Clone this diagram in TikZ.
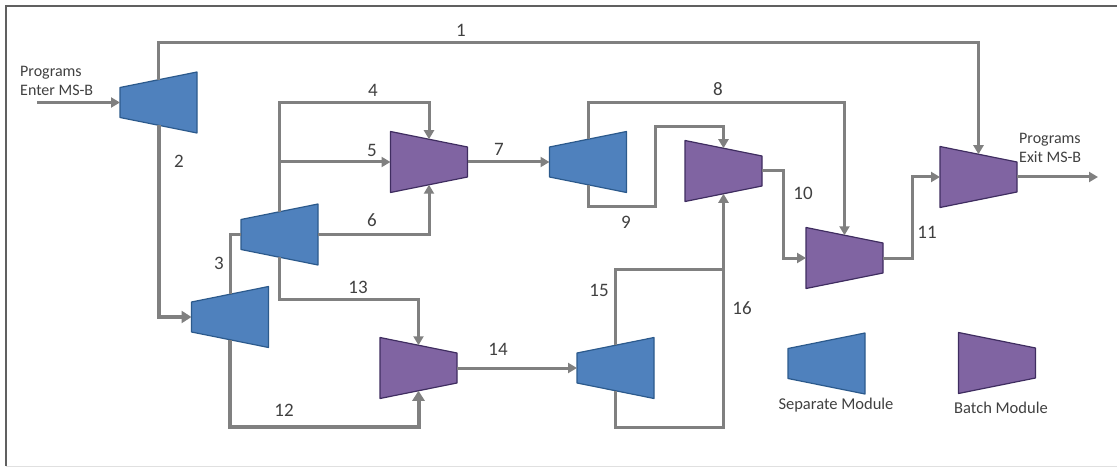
\documentclass[tikz,border=0pt]{standalone}
\usepackage{fontspec}
\setmainfont{Carlito}
\usetikzlibrary{arrows.meta,calc}
\definecolor{sepfill}{HTML}{4F81BD}
\definecolor{sepline}{HTML}{2C5A8C}
\definecolor{batfill}{HTML}{8064A2}
\definecolor{batline}{HTML}{3F2D60}
\definecolor{conn}{HTML}{808080}
\definecolor{txt}{HTML}{404040}
\definecolor{frame}{HTML}{606060}
\tikzset{
  sepmod/.pic={
    \draw[sepline,fill=sepfill,line width=1.2pt,line join=round]
      (-38.5,-15) -- (38.5,-30.5) -- (38.5,30.5) -- (-38.5,15) -- cycle;
    \coordinate (-w) at (-38.5,0);
    \coordinate (-e) at (38.5,0);
    \coordinate (-n) at (0,-22.75);
    \coordinate (-s) at (0,22.75);
  },
  batmod/.pic={
    \draw[batline,fill=batfill,line width=1.2pt,line join=round]
      (-38.5,-30.5) -- (38.5,-15) -- (38.5,15) -- (-38.5,30.5) -- cycle;
    \coordinate (-w) at (-38.5,0);
    \coordinate (-e) at (38.5,0);
    \coordinate (-n) at (0,-22.75);
    \coordinate (-s) at (0,22.75);
  },
  flow/.style={draw=conn,line width=3pt,-{Triangle[length=9pt,width=10pt]}},
  flowthick/.style={draw=conn,line width=4pt,-{Triangle[length=10pt,width=12pt]}},
  plain/.style={draw=conn,line width=3pt},
  num/.style={text=txt,font=\fontsize{19}{19}\selectfont,inner sep=0pt},
  lbl/.style={text=txt,font=\fontsize{16}{19}\selectfont,inner sep=0pt,align=left},
  leg/.style={text=txt,font=\fontsize{16.5}{19}\selectfont,inner sep=0pt},
}
\begin{document}
\begin{tikzpicture}[x=1pt,y=-1pt]
\useasboundingbox (0,0) rectangle (1117,468);
% frame
\draw[frame,line width=2pt] (6,466) -- (6,6) -- (1117,6);
\draw[black!12,line width=1pt] (6,466) -- (1117,466);

% modules
\pic (s1) at (158.5,102.5) {sepmod};
\pic (s2) at (279.5,234.5) {sepmod};
\pic (s3) at (230,317) {sepmod};
\pic (s4) at (588,162) {sepmod};
\pic (s5) at (615.5,368) {sepmod};
\pic (b1) at (429,162) {batmod};
\pic (b2) at (723.5,171) {batmod};
\pic (b3) at (844.5,258) {batmod};
\pic (b4) at (978.5,177) {batmod};
\pic (b5) at (418.5,368) {batmod};
\pic (ls) at (826.5,363.5) {sepmod};
\pic (lb) at (997,363) {batmod};

% free ends
\coordinate (in) at (37,102.5);
\coordinate (out) at (1098,177);

% connectors
\draw[flow] (in) -- (s1-w);
\draw[flow] (s1-n) -- (s1-n |- 0,43) -| (b4-n);
\draw[flowthick] (s1-s) |- (s3-w);
\draw[plain] (s3-n) |- (s2-w);
\draw[flow] (s2-n) -- (s2-n |- 0,103) -| (b1-n);
\coordinate (j5) at (s2-n |- b1-w);
\draw[flow] (j5) -- (b1-w);
\draw[flow] (s2-e) -| (b1-s);
\draw[flow] (s2-s) -- (s2-s |- 0,299) -| (b5-n);
\draw[flowthick] (s3-s) -- (s3-s |- 0,427) -| (b5-s);
\draw[flow] (b1-e) -- (s4-w);
\draw[flow] (s4-n) -- (s4-n |- 0,103) -| (b3-n);
\coordinate (k9a) at (655,206);
\coordinate (k9b) at (655,127);
\draw[flow] (s4-s) |- (k9a) -- (k9b) -| (b2-n);
\draw[flow] (b2-e) -- (b2-e -| 783,0) |- (b3-w);
\draw[flow] (b3-e) -- (b3-e -| 912,0) |- (b4-w);
\draw[flow] (b4-e) -- (out);
\draw[flow] (b5-e) -- (s5-w);
\coordinate (j15) at (b2-s |- 0,269);
\draw[flow] (s5-n) |- (j15) -- (b2-s);
\draw[plain] (s5-s) -- (s5-s |- 0,427) -| (j15);

% labels
\node[num] (n1) at (461,30) {1};
\node[num] (n2) at (179,161) {2};
\node[num] (n3) at (219,263) {3};
\node[num] (n4) at (373,90) {4};
\node[num] (n5) at (372,150) {5};
\node[num] (n6) at (372,220) {6};
\node[num] (n7) at (499,149) {7};
\node[num] (n8) at (718,89) {8};
\node[num] (n9) at (626,222) {9};
\node[num] (n10) at (803,193) {10};
\node[num] (n11) at (927,232) {11};
\node[num] (n12) at (284,410) {12};
\node[num] (n13) at (358,287) {13};
\node[num] (n14) at (498,349) {14};
\node[num] (n15) at (599,290) {15};
\node[num] (n16) at (742,308) {16};

\node[lbl,anchor=west] (enter) at (20,81) {Programs\\Enter\ MS-B};
\node[lbl,anchor=west] (exit) at (1019,148) {Programs\\Exit MS-B};
\node[leg] (lsl) at (836,405) {Separate Module};
\node[leg] (lbl2) at (1001,408) {Batch Module};
\end{tikzpicture}
\end{document}
